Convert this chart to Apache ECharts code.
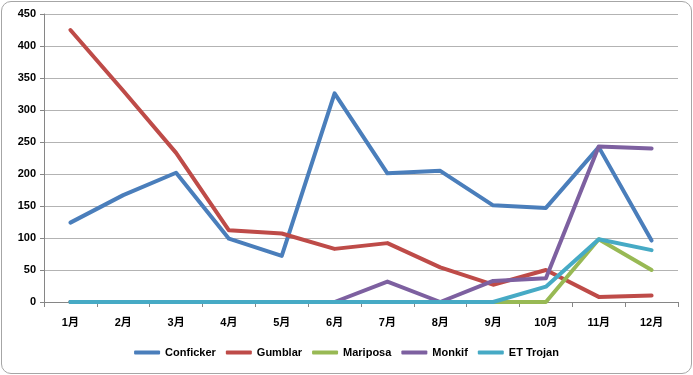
<!DOCTYPE html>
<html>
<head>
<meta charset="utf-8">
<script src="https://cdn.jsdelivr.net/npm/echarts@6/dist/echarts.min.js"></script>
<style>
  html, body { margin: 0; padding: 0; background: #fff; }
  #box {
    position: absolute; left: 1px; top: 1px; width: 689px; height: 371px;
    border: 1px solid #a6a6a6; border-radius: 10px; overflow: hidden;
  }
  #chart { width: 689px; height: 371px; }
</style>
</head>
<body>
<div id="box"><div id="chart"></div></div>
<script>
  const months = ["1月", "2月", "3月", "4月", "5月", "6月", "7月", "8月", "9月", "10月", "11月", "12月"];
  const conficker = [124, 167, 202, 99, 72, 326, 201, 205, 151, 147, 242, 96];
  const gumblar = [425, 330, 233, 112, 107, 83, 92, 54, 27, 50, 8, 10];
  const mariposa = [0, 0, 0, 0, 0, 0, 0, 0, 0, 0, 98, 50];
  const monkif = [0, 0, 0, 0, 0, 0, 32, 0, 33, 37, 243, 240];
  const etTrojan = [0, 0, 0, 0, 0, 0, 0, 0, 0, 24, 98, 81];

  const chart = echarts.init(document.getElementById("chart"));

  const font = "Liberation Sans, Noto Sans CJK SC, sans-serif";

  const line = (name, data, color) => ({
    name: name,
    type: "line",
    data: data,
    symbol: "none",
    lineStyle: { width: 4, color: color, cap: "round", join: "round" },
    itemStyle: { color: color },
  });

  const option = {
    animation: false,
    grid: { left: 42, right: 13, top: 12, bottom: 71 },
    legend: {
      bottom: 10,
      left: "center",
      icon: "roundRect",
      itemWidth: 26,
      itemHeight: 4,
      itemGap: 10,
      textStyle: { fontSize: 11, fontWeight: "bold", color: "#000", fontFamily: font },
      data: ["Conficker", "Gumblar", "Mariposa", "Monkif", "ET Trojan"],
    },
    xAxis: {
      type: "category",
      data: months,
      boundaryGap: true,
      axisLine: { lineStyle: { color: "#868686" } },
      axisTick: { show: true, length: 5, lineStyle: { color: "#868686" } },
      axisLabel: { fontSize: 11, fontWeight: "bold", color: "#000", margin: 15, fontFamily: font },
    },
    yAxis: {
      type: "value",
      min: 0,
      max: 450,
      interval: 50,
      axisLine: { show: true, lineStyle: { color: "#868686" } },
      axisTick: { show: true, length: 4, lineStyle: { color: "#868686" } },
      axisLabel: { fontSize: 11, fontWeight: "bold", color: "#000", margin: 8, fontFamily: font },
      splitLine: { lineStyle: { color: "#b3b3b3", width: 1 } },
    },
    series: [
      line("Conficker", conficker, "#4a7ebb"),
      line("Gumblar", gumblar, "#be4b48"),
      line("Mariposa", mariposa, "#98b954"),
      line("Monkif", monkif, "#7d60a0"),
      line("ET Trojan", etTrojan, "#46aac5"),
    ],
  };

  chart.setOption(option);
</script>
</body>
</html>
